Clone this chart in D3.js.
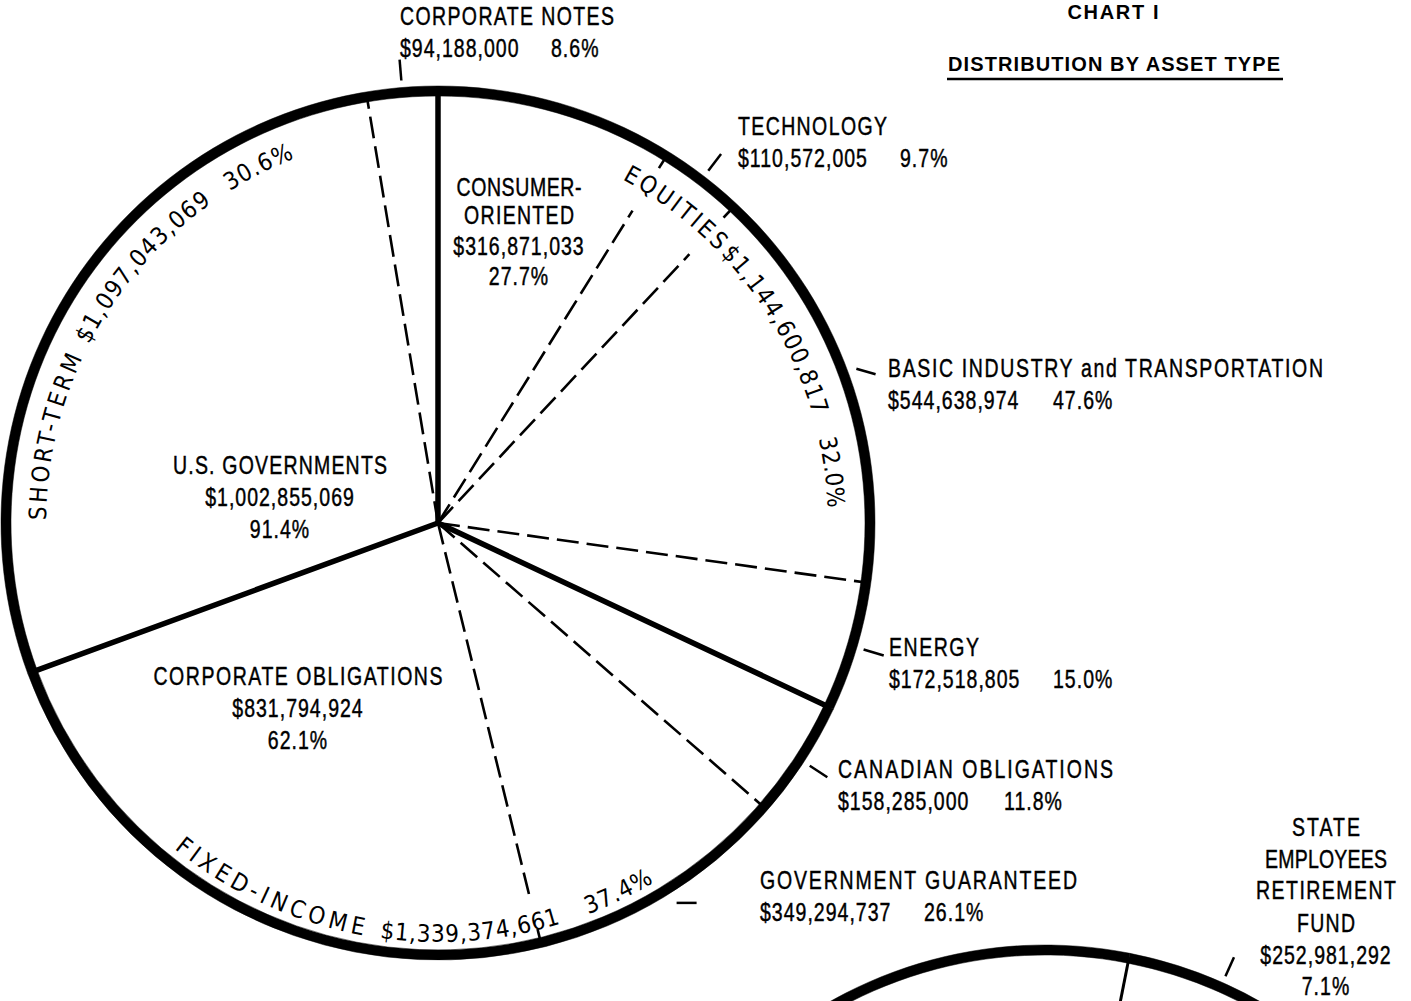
<!DOCTYPE html>
<html>
<head>
<meta charset="utf-8">
<script src="https://cdn.jsdelivr.net/npm/d3@7"></script>
<style>
html, body { margin: 0; padding: 0; background: #fff; }
svg { display: block; }
text { fill: #000; }
.lab { font-family: "Liberation Sans", Arial, sans-serif; font-size: 25px; stroke: #000; stroke-width: 0.45px; }
.curve { font-family: "DejaVu Sans Condensed", "DejaVu Sans", sans-serif; font-size: 24px; }
.ttl { font-family: "Liberation Sans", Arial, sans-serif; font-size: 20px; font-weight: bold; }
</style>
</head>
<body>
<div id="chart-area"></div>
<script>
var svgWidth = 1411
var svgHeight = 1001

var title = "CHART I"
var subtitle = "DISTRIBUTION BY ASSET TYPE"

// asset groups, clockwise from 12 o'clock
var groups = ["EQUITIES", "FIXED-INCOME", "SHORT-TERM"]
var groupAmounts = ["$1,144,600,817", "$1,339,374,661", "$1,097,043,069"]
var groupShares = [32.0, 37.4, 30.6]

// categories inside each group (share = % of the group)
var subGroup = ["EQUITIES", "EQUITIES", "EQUITIES", "EQUITIES",
	"FIXED-INCOME", "FIXED-INCOME", "FIXED-INCOME", "SHORT-TERM", "SHORT-TERM"]
var subNames = ["CONSUMER-ORIENTED", "TECHNOLOGY", "BASIC INDUSTRY and TRANSPORTATION", "ENERGY",
	"CANADIAN OBLIGATIONS", "GOVERNMENT GUARANTEED", "CORPORATE OBLIGATIONS",
	"U.S. GOVERNMENTS", "CORPORATE NOTES"]
var subAmounts = ["$316,871,033", "$110,572,005", "$544,638,974", "$172,518,805",
	"$158,285,000", "$349,294,737", "$831,794,924", "$1,002,855,069", "$94,188,000"]
var subShares = [27.7, 9.7, 47.6, 15.0, 11.8, 26.1, 62.1, 91.4, 8.6]

// the next chart, only its top is on this page
var fundNames = ["STATE EMPLOYEES RETIREMENT FUND", "OTHER"]
var fundAmounts = ["$252,981,292", ""]
var fundShares = [7.1, 92.9]

// ---- layout ----
var cx = 438, cy = 523, radius = 432
var deg = Math.PI / 180
var sx = 0.78   // horizontal squeeze, the print uses a condensed face
var fmtPct = function(v){ return d3.format(".1f")(v) + "%" }

// curved group labels: baseline radius, angle ranges (deg) for name / amount / percent
var curved = {
	"EQUITIES": { r: 390, ccw: false, cut: 368, parts: [[28.2, 45.8], [46.4, 73.9], [77.5, 87.8]] },
	"FIXED-INCOME": { r: 419, ccw: true, cut: 386, parts: [[219, 190.3], [188, 163], [159, 149]] },
	"SHORT-TERM": { r: 392, ccw: false, cut: 0, parts: [[270.4, 294.9], [297.1, 324.7], [327.9, 338.5]] }
}

var outsideLabels = {
	"CORPORATE NOTES": { x: 400, y: 25, w: 214, px: 551 },
	"TECHNOLOGY": { x: 738, y: 135, w: 149, px: 900 },
	"BASIC INDUSTRY and TRANSPORTATION": { x: 888, y: 377, w: 435, px: 1053, dir: 16 },
	"ENERGY": { x: 889, y: 656, w: 90, px: 1053 },
	"CANADIAN OBLIGATIONS": { x: 838, y: 778, w: 275, px: 1004 },
	"GOVERNMENT GUARANTEED": { x: 760, y: 889, w: 317, px: 924, at: 146.8, dir: 0 }
}
var insideLabels = {
	"CONSUMER-ORIENTED": { x: 519, y: [196, 224, 255, 285], w: [125, 110] },
	"U.S. GOVERNMENTS": { x: 280, y: [474, 506, 538], w: [214] },
	"CORPORATE OBLIGATIONS": { x: 298, y: [685, 717, 749], w: [289] }
}

var fundCx = 1045, fundCy = 1382, fundStart = 11.2
var fundLabel = { x: 1326, y: [836, 868, 899, 932, 964, 995], w: [68, 122, 140, 58] }

// ---- svg ----
var svg = d3.select("#chart-area")
			.append("svg")
			.attr("width", svgWidth)
			.attr("height", svgHeight)

svg.append("rect").attr("width", svgWidth).attr("height", svgHeight).attr("fill", "#fff")

function label(x, y, t, w, anchor) {
	var el = svg.append("text")
		.attr("class", "lab")
		.attr("transform", "translate(" + x + "," + y + ") scale(" + sx + ",1)")
		.attr("text-anchor", anchor || "start")
		.text(t)
	if (w) el.attr("textLength", w / sx).attr("lengthAdjust", "spacing")
	else el.style("letter-spacing", "1.3px")
	return el
}

// title
svg.append("text")
	.attr("class", "ttl")
	.attr("x", 1113).attr("y", 19)
	.attr("text-anchor", "middle")
	.attr("textLength", 91)
	.text(title)
svg.append("text")
	.attr("class", "ttl")
	.attr("x", 948).attr("y", 71)
	.attr("textLength", 332)
	.text(subtitle)
svg.append("line")
	.attr("x1", 947).attr("x2", 1283)
	.attr("y1", 79).attr("y2", 79)
	.attr("stroke", "#000").attr("stroke-width", 2.5)

var g = svg.append("g").attr("transform", "translate(" + cx + "," + cy + ")")

var pie = d3.pie().sort(null).value(function(d){ return d })
var groupArcs = pie(groupShares)

var subArcs = []
groupArcs.forEach(function(ga, i){
	var idx = []
	subGroup.forEach(function(s, j){ if (s === groups[i]) idx.push(j) })
	var p = d3.pie().sort(null).startAngle(ga.startAngle).endAngle(ga.endAngle)
	p(idx.map(function(j){ return subShares[j] })).forEach(function(a, k){
		a.name = subNames[idx[k]]
		a.amount = subAmounts[idx[k]]
		a.group = i
		a.first = k === 0
		subArcs.push(a)
	})
})

function radial(angle, r0, r1) {
	return "M" + d3.pointRadial(angle, r0) + "L" + d3.pointRadial(angle, r1)
}

// dashed lines between categories
subArcs.forEach(function(a){
	if (a.first) return
	var c = curved[groups[a.group]]
	var lo = d3.min(c.parts, function(p){ return Math.min(p[0], p[1]) })
	var hi = d3.max(c.parts, function(p){ return Math.max(p[0], p[1]) })
	var d = a.startAngle / deg
	var under = d > lo && d < hi
	g.append("path")
		.attr("d", radial(a.startAngle, 0, under ? c.cut : radius))
		.attr("fill", "none")
		.attr("stroke", "#000")
		.attr("stroke-width", 2.6)
		.attr("stroke-dasharray", "22,8")
	if (under) {
		g.append("path")
			.attr("d", radial(a.startAngle, radius - 14, radius))
			.attr("stroke", "#000")
			.attr("stroke-width", 2.6)
	}
})

// solid lines between groups
g.selectAll(".sep").data(groupArcs).enter()
	.append("path")
	.attr("class", "sep")
	.attr("d", function(d){ return radial(d.startAngle, 0, radius) })
	.attr("stroke", "#000")
	.attr("stroke-width", 5.5)
	.attr("stroke-linecap", "round")

// outer ring
var ring = d3.arc().innerRadius(radius - 5).outerRadius(radius + 5)
g.selectAll(".ring").data(groupArcs).enter()
	.append("path")
	.attr("class", "ring")
	.attr("d", ring)
	.attr("fill", "#000")
	.attr("stroke", "#000")
	.attr("stroke-width", 0.5)

// curved group labels
groups.forEach(function(name, i){
	var c = curved[name]
	var texts = [name, groupAmounts[i], fmtPct(groupShares[i])]
	c.parts.forEach(function(p, k){
		var a0 = p[0] * deg, a1 = p[1] * deg
		var path = d3.path()
		path.arc(0, 0, c.r, a0 - Math.PI / 2, a1 - Math.PI / 2, c.ccw)
		var id = "curve-" + i + "-" + k
		g.append("path").attr("id", id).attr("d", path.toString()).attr("fill", "none")
		g.append("text")
			.attr("class", "curve")
			.append("textPath")
			.attr("href", "#" + id)
			.attr("textLength", c.r * Math.abs(a1 - a0))
			.attr("lengthAdjust", "spacing")
			.text(texts[k])
	})
})

// leader ticks for the outside labels
subArcs.forEach(function(a){
	var lab = outsideLabels[a.name]
	if (!lab) return
	var mid = lab.at !== undefined ? lab.at * deg : (a.startAngle + a.endAngle) / 2
	if (lab.dir === undefined) {
		g.append("path").attr("d", radial(mid, radius + 12, radius + 33))
			.attr("stroke", "#000").attr("stroke-width", 2.5)
	} else {
		var c = d3.pointRadial(mid, radius + 22)
		var dx = Math.cos(lab.dir * deg) * 10, dy = Math.sin(lab.dir * deg) * 10
		g.append("line")
			.attr("x1", c[0] - dx).attr("y1", c[1] - dy)
			.attr("x2", c[0] + dx).attr("y2", c[1] + dy)
			.attr("stroke", "#000").attr("stroke-width", 2.5)
	}
})

// outside labels
subArcs.forEach(function(a){
	var lab = outsideLabels[a.name]
	if (!lab) return
	label(lab.x, lab.y, a.name, lab.w)
	label(lab.x, lab.y + 32, a.amount)
	label(lab.px, lab.y + 32, fmtPct(a.data))
})

// inside labels
subArcs.forEach(function(a){
	var lab = insideLabels[a.name]
	if (!lab) return
	var lines = a.name.split(/(?<=-)/)
	lines.concat([a.amount, fmtPct(a.data)]).forEach(function(t, k){
		label(lab.x, lab.y[k], t, lab.w[k], "middle")
	})
})

// second fund pie (cut by the page edge)
var fg = svg.append("g").attr("transform", "translate(" + fundCx + "," + fundCy + ")")
var fundArcs = d3.pie().sort(null)
				.startAngle(fundStart * deg)
				.endAngle(fundStart * deg + 2 * Math.PI)(fundShares)

fg.selectAll(".fsep").data(fundArcs).enter()
	.append("path")
	.attr("d", function(d){ return radial(d.startAngle, 0, radius) })
	.attr("stroke", "#000")
	.attr("stroke-width", 3)

fg.selectAll(".fring").data(fundArcs).enter()
	.append("path")
	.attr("d", ring)
	.attr("fill", "#000")
	.attr("stroke", "#000")
	.attr("stroke-width", 0.5)

var fmid = (fundArcs[0].startAngle + fundArcs[0].endAngle) / 2
fg.append("path").attr("d", radial(fmid, radius + 12, radius + 33))
	.attr("stroke", "#000").attr("stroke-width", 2.5)

fundNames[0].split(" ").concat([fundAmounts[0], fmtPct(fundShares[0])]).forEach(function(t, k){
	label(fundLabel.x, fundLabel.y[k], t, fundLabel.w[k], "middle")
})
</script>
</body>
</html>
